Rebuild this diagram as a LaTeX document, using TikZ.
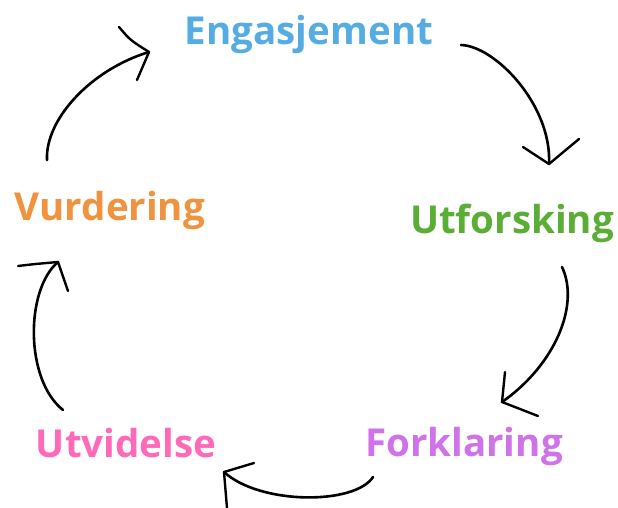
\documentclass[tikz,border=0pt]{standalone}
\usepackage{fontspec}
\setmainfont{Open Sans}
\begin{document}
\begin{tikzpicture}[x=1pt,y=-1pt,
  phase/.style={anchor=base,inner sep=0pt,font=\fontsize{38.5}{38.5}\selectfont\bfseries},
  sketch/.style={line width=2.6pt,line cap=round,line join=round,black},
  head/.style={line width=2.4pt,line cap=round,line join=round,black}]
\definecolor{cEng}{HTML}{55ABE3}
\definecolor{cUtf}{HTML}{5BAE35}
\definecolor{cFor}{HTML}{D072E8}
\definecolor{cUtv}{HTML}{FF69B9}
\definecolor{cVur}{HTML}{F0923E}
\useasboundingbox (0,0) rectangle (618,508);

% the five phases
\node[phase,text=cEng] (eng) at (309,45) {Engasjement};
\node[phase,text=cUtf] (utf) at (512,233) {Utforsking};
\node[phase,text=cFor] (for) at (464,456) {Forklaring};
\node[phase,text=cUtv] (utv) at (126,457) {Utvidelse};
\node[phase,text=cVur] (vur) at (110,220) {Vurdering};

% end points of the hand-drawn arrows
\coordinate (a1s) at (461,45);  \coordinate (a1t) at (549,164);
\coordinate (a2s) at (562,267); \coordinate (a2t) at (502,402);
\coordinate (a3s) at (373,477); \coordinate (a3t) at (224,472);
\coordinate (a4s) at (63,410);  \coordinate (a4t) at (58,262);
\coordinate (a5s) at (47,160);  \coordinate (a5t) at (149,52);

% Engasjement -> Utforsking
\draw[sketch] (a1s) .. controls (495,46) and (552,105) .. (a1t);
\draw[head] (523,147) -- (a1t) -- (579,139);
% Utforsking -> Forklaring
\draw[sketch] (a2s) .. controls (580,305) and (555,365) .. (a2t);
\draw[head] (505,372) -- (a2t) -- (538,416);
% Forklaring -> Utvidelse
\draw[sketch] (a3s) .. controls (355,505) and (260,505) .. (a3t);
\draw[head] (254,463) -- (a3t) -- (227,508);
% Utvidelse -> Vurdering
\draw[sketch] (a4s) .. controls (25,380) and (25,290) .. (a4t);
\draw[head] (18,266) .. controls (35,264) .. (a4t) -- (68,291);
% Vurdering -> Engasjement
\draw[sketch] (a5s) .. controls (45,120) and (90,70) .. (a5t);
\draw[head] (119,27) .. controls (130,40) .. (a5t) -- (137,80);
\end{tikzpicture}
\end{document}
